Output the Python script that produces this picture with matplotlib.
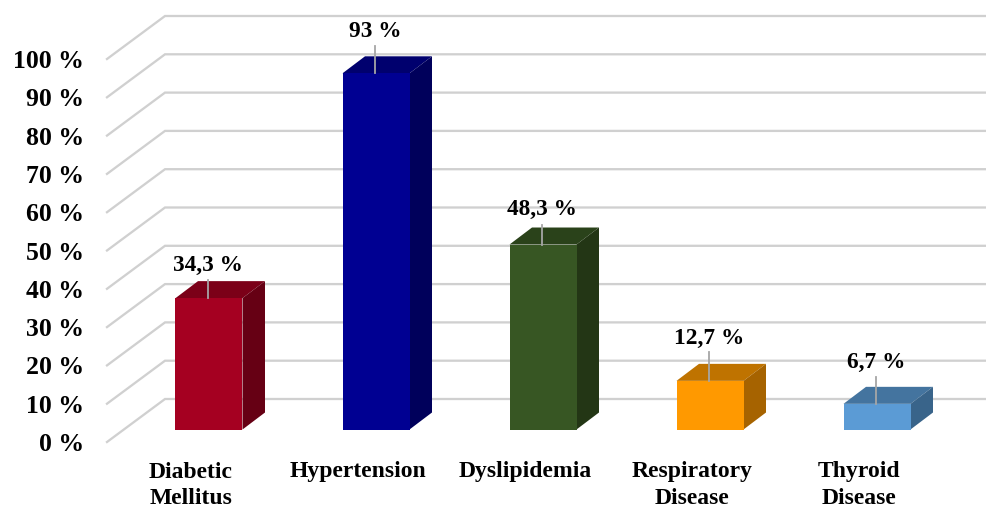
import matplotlib
matplotlib.use('Agg')
import matplotlib.pyplot as plt
from matplotlib.patches import Polygon

plt.rcParams['font.family'] = ['Liberation Serif', 'DejaVu Serif']
plt.rcParams['font.weight'] = 'bold'

# data
categories = ['Diabetic\nMellitus', 'Hypertension', 'Dyslipidemia', 'Respiratory\nDisease', 'Thyroid\nDisease']
values = [34.3, 93, 48.3, 12.7, 6.7]
value_labels = ['34,3 %', '93 %', '48,3 %', '12,7 %', '6,7 %']
ticks = [0, 10, 20, 30, 40, 50, 60, 70, 80, 90, 100]

# front, top, side colours of each bar
front_colors = ['#A50021', '#000092', '#375623', '#FF9900', '#5B9BD5']
top_colors = ['#7B0018', '#00006E', '#2A421A', '#BF7300', '#44749F']
side_colors = ['#660014', '#00005B', '#233615', '#A66300', '#39648A']

# leader length and label gap above the leader, in px
leader_px = [18, 27, 20, 29, 27]
label_px = [15, 15, 15, 13, 14]

W, H = 986, 508
PX_X = 167.0     # px per category
PX_Y = 3.83      # px per percent
X0, Y0 = 209.0, 429.5    # first bar centre and bar base in px
BAR_W = 67 / PX_X
DX, DY = 22.5 / PX_X, 17 / PX_Y   # bar depth

fig = plt.figure(figsize=(W / 100, H / 100), dpi=100)
ax = fig.add_axes([0, 0, 1, 1])
ax.set_xlim(-X0 / PX_X, (W - X0) / PX_X)
ax.set_ylim(-(H - Y0) / PX_Y, Y0 / PX_Y)
ax.axis('off')

# floor/wall grid, front edge sits below and left of the bars, back edge behind them
fx, bx = (107 - X0) / PX_X, (165 - X0) / PX_X
end_x = (W - X0) / PX_X
fy, by = -12.5 / PX_Y, 30.5 / PX_Y
for t in ticks:
    ax.plot([fx, bx, end_x], [t + fy, t + by, t + by], color='#D0D0D0', lw=1.65,
            solid_joinstyle='miter', zorder=1)
    ax.text((84 - X0) / PX_X, t + fy - 2.5 / PX_Y, f'{t} %', ha='right', va='center',
            fontsize=18.5, color='black', zorder=5)

for i, v in enumerate(values):
    l, r = i - BAR_W / 2, i + BAR_W / 2
    ax.add_patch(Polygon([(l, v), (r, v), (r + DX, v + DY), (l + DX, v + DY)],
                         fc=top_colors[i], ec='none', zorder=3))
    ax.add_patch(Polygon([(r, 0), (r + DX, DY), (r + DX, v + DY), (r, v)],
                         fc=side_colors[i], ec='none', zorder=3))
    ax.bar(i, v, width=BAR_W, bottom=0, color=front_colors[i], zorder=3)
    top = v + leader_px[i] / PX_Y
    ax.plot([i - 0.003, i - 0.003], [v, top], color='#A6A6A6', lw=1.3, zorder=4)
    ax.text(i - 0.005, top + label_px[i] / PX_Y, value_labels[i], ha='center', va='center',
            fontsize=16.8, color='black', zorder=5)
    # each line on its own baseline
    for n, line in enumerate(categories[i].split('\n')):
        ax.text(i - 18 / PX_X, -(477.5 + 26.5 * n - Y0) / PX_Y, line, ha='center', va='baseline',
                fontsize=17, color='black', zorder=5)

fig.savefig('out.png', dpi=100)
